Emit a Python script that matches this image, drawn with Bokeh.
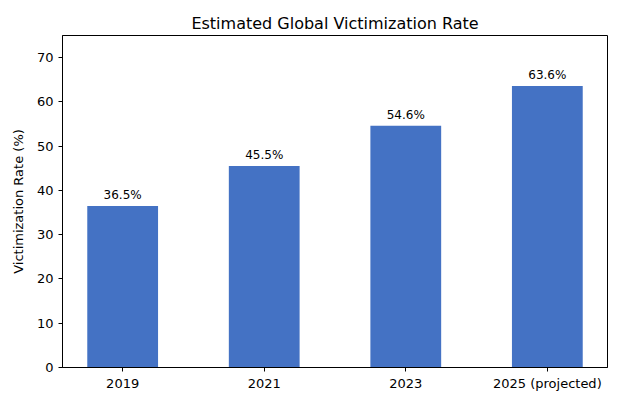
from bokeh.plotting import figure
from bokeh.models import Range1d, ColumnDataSource, FixedTicker
from bokeh.embed import file_html
from bokeh.resources import INLINE
from bokeh.core.properties import value

years = ["2019", "2021", "2023", "2025 (projected)"]
rates = [36.5, 45.5, 54.6, 63.6]
labels = [f"{r:.1f}%" for r in rates]
xpos = list(range(len(years)))

src = ColumnDataSource(dict(x=xpos, top=rates, lab=labels, ly=[r + 0.9 for r in rates]))

p = figure(width=624, height=404, output_backend="svg", toolbar_location=None,
           x_range=Range1d(-0.425, len(years) - 1 + 0.425),
           y_range=Range1d(0, 75),
           min_border_left=62, min_border_right=17, min_border_top=35, min_border_bottom=37)

p.vbar(x="x", top="top", width=0.5, source=src, color="#4472C4", line_color=None)
p.text(x="x", y="ly", text="lab", source=src, text_align="center", text_baseline="bottom",
       text_font=value("DejaVu Sans"), text_font_size="12px", text_color="black")

p.title.text = "Estimated Global Victimization Rate"
p.title.align = "center"
p.title.text_font = "DejaVu Sans"
p.title.text_font_size = "16px"
p.title.text_font_style = "normal"
p.title.text_color = "black"
p.title.offset = 0
p.title.standoff = 6

p.yaxis.axis_label = "Victimization Rate (%)"
p.yaxis.ticker = FixedTicker(ticks=[0, 10, 20, 30, 40, 50, 60, 70])
p.xaxis.ticker = FixedTicker(ticks=xpos)
p.xaxis.major_label_overrides = {i: y for i, y in zip(xpos, years)}
for ax in (p.xaxis, p.yaxis):
    ax.axis_label_text_font = "DejaVu Sans"
    ax.axis_label_text_font_size = "13px"
    ax.axis_label_text_font_style = "normal"
    ax.axis_label_text_color = "black"
    ax.major_label_text_font = "DejaVu Sans"
    ax.major_label_text_font_size = "13px"
    ax.major_label_text_color = "black"
    ax.axis_line_color = "black"
    ax.major_tick_line_color = "black"
    ax.major_tick_out = 4
    ax.major_tick_in = 0
    ax.minor_tick_line_color = None
p.yaxis.axis_label_standoff = 8
p.xaxis.major_label_standoff = 4

p.xgrid.grid_line_color = None
p.ygrid.grid_line_color = None
p.outline_line_color = "black"
p.outline_line_alpha = 1

open("out.html", "w").write(file_html(p, INLINE))
